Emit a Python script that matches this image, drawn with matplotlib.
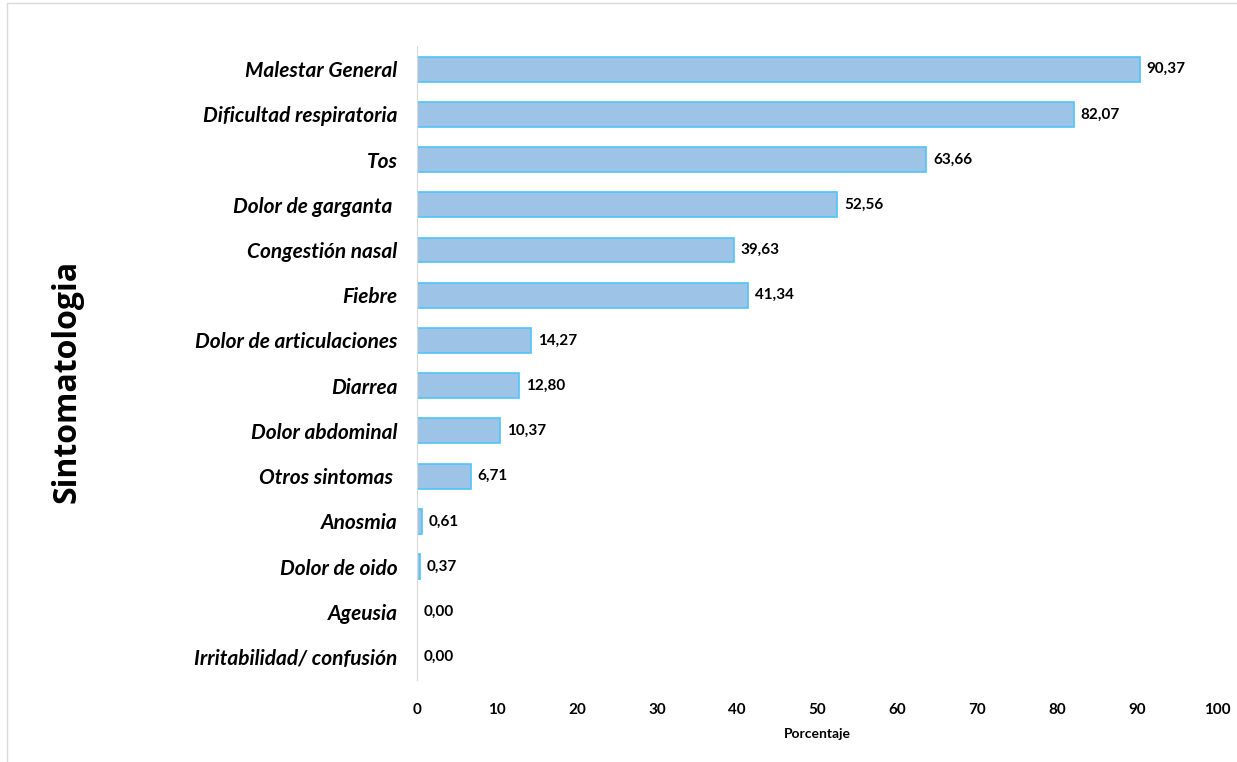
import matplotlib.pyplot as plt
from matplotlib.patches import Rectangle

sintomas = ['Malestar General', 'Dificultad respiratoria', 'Tos', 'Dolor de garganta ',
            'Congestión nasal', 'Fiebre', 'Dolor de articulaciones', 'Diarrea',
            'Dolor abdominal', 'Otros sintomas ', 'Anosmia', 'Dolor de oido',
            'Ageusia', 'Irritabilidad/ confusión']
porcentaje = [90.37, 82.07, 63.66, 52.56, 39.63, 41.34, 14.27, 12.80,
              10.37, 6.71, 0.61, 0.37, 0.00, 0.00]
xticks = [0, 10, 20, 30, 40, 50, 60, 70, 80, 90, 100]

fig = plt.figure(figsize=(12.37, 7.62), dpi=100)
ax = fig.add_axes([0.337, 0.108, 0.6468, 0.831])

pos = list(range(len(sintomas)))
ax.barh(pos, porcentaje, height=0.55, color='#9DC3E6', edgecolor='#4FC3F7', linewidth=1.2)
ax.set_ylim(len(sintomas) - 0.5, -0.5)
ax.set_xlim(0, 100)

for p, v in zip(pos, porcentaje):
    ax.annotate(f"{v:.2f}".replace('.', ','), (v, p), xytext=(5, 0), textcoords='offset points',
                va='center', ha='left', fontsize=11, fontweight='bold', family='Lato')

ax.set_yticks(pos)
ax.set_yticklabels(sintomas, fontsize=15, fontweight='bold', style='italic', family='Lato')
ax.set_xticks(xticks)
ax.set_xticklabels([str(t) for t in xticks], fontsize=11, fontweight='bold', family='Lato')
ax.tick_params(axis='both', length=0)
ax.tick_params(axis='y', pad=14)
ax.tick_params(axis='x', pad=17)

for s in ['top', 'right', 'bottom']:
    ax.spines[s].set_visible(False)
ax.spines['left'].set_color('#D9D9D9')

ax.set_xlabel('Porcentaje', fontsize=10, fontweight='bold', family='Lato', labelpad=8)
fig.text(0.054, 0.499, 'Sintomatologia', rotation=90, va='center', ha='center',
         fontsize=23, fontweight='bold', family='Open Sans')

fig.patches.append(Rectangle((0.006, -0.01), 1.1, 1.006, transform=fig.transFigure,
                             fill=False, edgecolor='#D9D9D9', linewidth=1))

fig.savefig('out.png', dpi=100)
